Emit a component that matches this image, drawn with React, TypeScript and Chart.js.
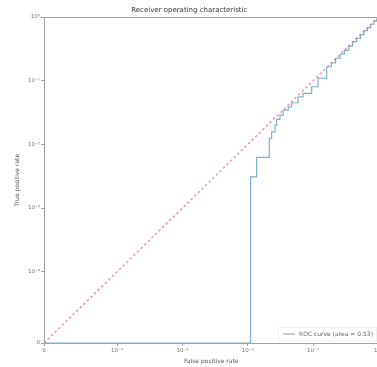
import React, { useEffect, useRef } from 'react';
import { Chart, Scale, registerables } from 'chart.js';

const TITLE = 'Receiver operating characteristic';
const X_TITLE = 'False positive rate';
const Y_TITLE = 'True positive rate';
const X_TICKS = [0, 1e-4, 1e-3, 1e-2, 1e-1, 1];
const X_TICK_LABELS = ['0', '10⁻⁴', '10⁻³', '10⁻²', '10⁻¹', '10⁰'];
const Y_TICKS = [0, 1e-4, 1e-3, 1e-2, 1e-1, 1];
const Y_TICK_LABELS = ['0', '10⁻⁴', '10⁻³', '10⁻²', '10⁻¹', '10⁰'];

const ROC_LABEL = 'ROC curve (area = 0.53)';
const ROC_FPR = [0, 0.011, 0.0136, 0.0213, 0.0231, 0.026, 0.0276, 0.031, 0.0348, 0.0416, 0.0469, 0.0585, 0.0698, 0.0949, 0.1186, 0.161, 0.19, 0.22, 0.26, 0.3, 0.35, 0.4, 0.46, 0.53, 0.6, 0.68, 0.76, 0.85, 0.93, 1];
const ROC_TPR = [0, 0.00308, 0.00622, 0.01239, 0.01573, 0.02004, 0.02465, 0.02877, 0.0345, 0.0389, 0.045, 0.0558, 0.0631, 0.0802, 0.1099, 0.1655, 0.19, 0.225, 0.26, 0.3, 0.35, 0.41, 0.46, 0.53, 0.61, 0.68, 0.77, 0.86, 0.93, 1];
const CHANCE_X = [0, 1];
const CHANCE_Y = [0, 1];

const LINTHRESH = 1e-4;
const LINSCALE = 1.12;

function fwd(v: number): number {
  const a = Math.abs(v);
  const s = v < 0 ? -1 : 1;
  if (a <= LINTHRESH) return (v / LINTHRESH) * LINSCALE;
  return s * (LINSCALE + Math.log10(a / LINTHRESH));
}
function inv(t: number): number {
  const a = Math.abs(t);
  const s = t < 0 ? -1 : 1;
  if (a <= LINSCALE) return (t / LINSCALE) * LINTHRESH;
  return s * LINTHRESH * Math.pow(10, a - LINSCALE);
}

class SymlogScale extends Scale {
  static id = 'symlog';
  static defaults = {};
  _s0 = 0;
  _range = 1;
  determineDataLimits() {
    const { min, max } = (this as any).getMinMax(true);
    (this as any).min = isFinite(min) ? min : 0;
    (this as any).max = isFinite(max) ? max : 1;
  }
  buildTicks() {
    const vals = (this as any).axis === 'x' ? X_TICKS : Y_TICKS;
    return vals.map((v) => ({ value: v }));
  }
  generateTickLabels(ticks: any[]) {
    const labels = (this as any).axis === 'x' ? X_TICK_LABELS : Y_TICK_LABELS;
    const vals = (this as any).axis === 'x' ? X_TICKS : Y_TICKS;
    ticks.forEach((t) => {
      const i = vals.indexOf(t.value);
      t.label = i >= 0 ? labels[i] : '';
    });
  }
  configure() {
    super.configure();
    const self = this as any;
    this._s0 = fwd(self.min);
    this._range = fwd(self.max) - this._s0 || 1;
  }
  getPixelForValue(value: number) {
    return (this as any).getPixelForDecimal((fwd(value) - this._s0) / this._range);
  }
  getValueForPixel(pixel: number) {
    return inv(this._s0 + (this as any).getDecimalForPixel(pixel) * this._range);
  }
}

Chart.register(...registerables, SymlogScale as any);

const FONT = 'DejaVu Sans';
const ROC_COLOR = '#7fb0d0';
const CHANCE_COLOR = 'rgba(226, 110, 130, 0.7)';

const framePlugin = {
  id: 'frameAndLegend',
  afterDatasetsDraw(chart: any) {
    const { ctx, chartArea } = chart;
    ctx.save();
    ctx.strokeStyle = '#a0a0a0';
    ctx.lineWidth = 1;
    ctx.beginPath();
    ctx.moveTo(chartArea.left, chartArea.top + 0.5);
    ctx.lineTo(chartArea.right, chartArea.top + 0.5);
    ctx.moveTo(chartArea.right - 0.5, chartArea.top);
    ctx.lineTo(chartArea.right - 0.5, chartArea.bottom);
    ctx.stroke();

    // legend box (lower right)
    const bw = 98;
    const bh = 14;
    const bx = 278;
    const by = chartArea.bottom - bh - 2;
    ctx.fillStyle = 'rgba(255,255,255,0.9)';
    ctx.strokeStyle = '#f0f0f0';
    ctx.fillRect(bx, by, bw, bh);
    ctx.strokeRect(bx + 0.5, by + 0.5, bw, bh);
    const cy = by + bh / 2;
    ctx.strokeStyle = '#8a9aa4';
    ctx.lineWidth = 1;
    ctx.beginPath();
    ctx.moveTo(bx + 5, cy);
    ctx.lineTo(bx + 17, cy);
    ctx.stroke();
    ctx.fillStyle = '#666';
    ctx.font = `6px "${FONT}"`;
    ctx.textBaseline = 'middle';
    ctx.textAlign = 'left';
    ctx.fillText(chart.data.datasets[0].label, bx + 21, cy);
    ctx.restore();
  },
};

export default function App() {
  const ref = useRef<HTMLCanvasElement | null>(null);
  useEffect(() => {
    if (!ref.current) return;
    const chart = new Chart(ref.current, {
      type: 'scatter',
      data: {
        datasets: [
          {
            label: ROC_LABEL,
            data: ROC_FPR.map((x, i) => ({ x, y: ROC_TPR[i] })),
            showLine: true,
            stepped: 'before',
            borderColor: ROC_COLOR,
            backgroundColor: ROC_COLOR,
            borderWidth: 1.2,
            pointRadius: 0,
            order: 2,
          },
          {
            label: 'chance',
            data: CHANCE_X.map((x, i) => ({ x, y: CHANCE_Y[i] })),
            showLine: true,
            borderColor: CHANCE_COLOR,
            borderDash: [2.5, 2.5],
            borderWidth: 1.5,
            pointRadius: 0,
            order: 1,
          },
        ],
      },
      options: {
        responsive: false,
        animation: false,
        devicePixelRatio: 1,
        layout: { autoPadding: false, padding: { left: 0, right: 11.5, top: 0, bottom: 0 } },
        plugins: {
          legend: { display: false },
          tooltip: { enabled: false },
          title: {
            display: true,
            text: TITLE,
            color: '#333',
            font: { family: FONT, size: 7, weight: 'normal' },
            padding: { top: 5.6, bottom: 3 },
          },
        },
        scales: {
          x: {
            type: 'symlog' as any,
            min: 0,
            max: 1,
            afterFit: (s: any) => {
              s.height = 24;
            },
            grid: { drawOnChartArea: false, drawTicks: true, tickLength: 3, color: '#a0a0a0' },
            border: { display: true, color: '#a0a0a0' },
            ticks: {
              autoSkip: false,
              maxRotation: 0,
              padding: 1,
              color: '#777',
              font: { family: FONT, size: 5.5 },
            },
            title: {
              display: true,
              text: X_TITLE,
              color: '#555',
              font: { family: FONT, size: 6 },
              padding: { top: 0, bottom: 2 },
            },
          } as any,
          y: {
            type: 'symlog' as any,
            min: 0,
            max: 1,
            afterFit: (s: any) => {
              s.width = 44;
            },
            grid: { drawOnChartArea: false, drawTicks: true, tickLength: 3, color: '#a0a0a0' },
            border: { display: true, color: '#a0a0a0' },
            ticks: {
              autoSkip: false,
              padding: 1,
              color: '#777',
              font: { family: FONT, size: 5.5 },
            },
            title: {
              display: true,
              text: Y_TITLE,
              color: '#555',
              font: { family: FONT, size: 6 },
              padding: { top: 13.5, bottom: 0 },
            },
          } as any,
        },
      },
      plugins: [framePlugin],
    });
    return () => chart.destroy();
  }, []);
  return (
    <div style={{ position: 'fixed', left: 0, top: 0, width: 377, height: 367, overflow: 'hidden', background: '#fff' }}>
      <canvas ref={ref} width={390} height={367} style={{ position: 'absolute', left: 0, top: 0 }} />
    </div>
  );
}
